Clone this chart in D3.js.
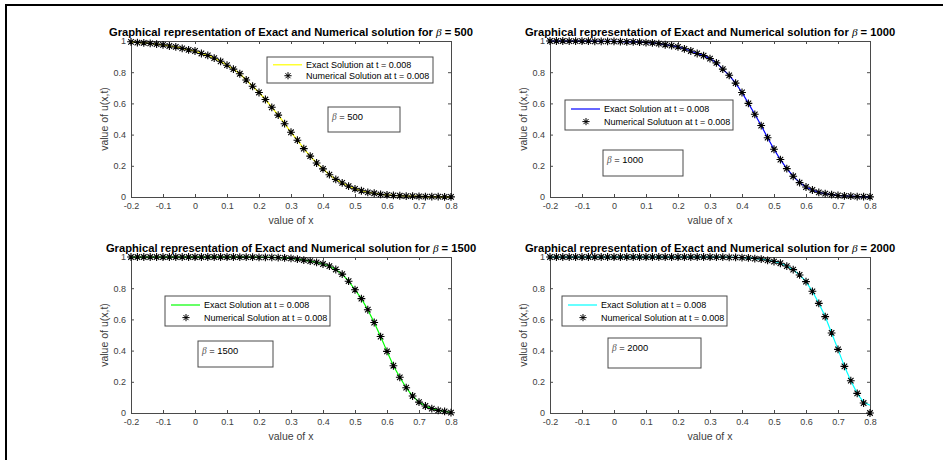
<!DOCTYPE html>
<html>
<head>
<meta charset="utf-8">
<script src="https://cdn.jsdelivr.net/npm/d3@7"></script>
<style>
  body { margin: 0; background: #fff; }
  svg { display: block; font-family: "Liberation Sans", Arial, sans-serif; }
  .tick text { fill: #404040; font-size: 9px; }
  .beta { font-family: "Liberation Serif", "Times New Roman", serif; font-style: italic; }
</style>
</head>
<body>
<svg id="chart" width="948" height="460"></svg>
<script>
// x positions of the grid points
const xValues = [-0.20, -0.18, -0.16, -0.14, -0.12, -0.10, -0.08, -0.06, -0.04, -0.02,
  0.00, 0.02, 0.04, 0.06, 0.08, 0.10, 0.12, 0.14, 0.16, 0.18,
  0.20, 0.22, 0.24, 0.26, 0.28, 0.30, 0.32, 0.34, 0.36, 0.38,
  0.40, 0.42, 0.44, 0.46, 0.48, 0.50, 0.52, 0.54, 0.56, 0.58,
  0.60, 0.62, 0.64, 0.66, 0.68, 0.70, 0.72, 0.74, 0.76, 0.78, 0.80];

const xTicks = [-0.2, -0.1, 0, 0.1, 0.2, 0.3, 0.4, 0.5, 0.6, 0.7, 0.8];
const yTicks = [0, 0.2, 0.4, 0.6, 0.8, 1];

// beta = 500
const exact500 = [0.995, 0.990, 0.988, 0.985, 0.980, 0.975, 0.968, 0.962, 0.953, 0.943,
  0.936, 0.920, 0.908, 0.890, 0.870, 0.845, 0.820, 0.790, 0.750, 0.710,
  0.670, 0.625, 0.575, 0.525, 0.470, 0.415, 0.364, 0.310, 0.262, 0.218,
  0.180, 0.143, 0.113, 0.090, 0.070, 0.052, 0.040, 0.030, 0.024, 0.017,
  0.013, 0.010, 0.008, 0.006, 0.005, 0.004, 0.003, 0.002, 0.002, 0.001, 0.001];
const numeric500 = [0.995, 0.990, 0.988, 0.985, 0.980, 0.975, 0.968, 0.962, 0.953, 0.943,
  0.936, 0.920, 0.908, 0.890, 0.870, 0.845, 0.820, 0.790, 0.750, 0.710,
  0.670, 0.625, 0.575, 0.525, 0.470, 0.415, 0.364, 0.310, 0.262, 0.218,
  0.180, 0.143, 0.113, 0.090, 0.070, 0.052, 0.040, 0.030, 0.024, 0.017,
  0.013, 0.010, 0.008, 0.006, 0.005, 0.004, 0.003, 0.002, 0.002, 0.001, 0.001];

// beta = 1000
const exact1000 = [1.000, 1.000, 1.000, 0.999, 0.999, 0.999, 0.999, 0.998, 0.998, 0.997,
  0.997, 0.996, 0.995, 0.994, 0.993, 0.990, 0.988, 0.983, 0.976, 0.970,
  0.962, 0.950, 0.936, 0.920, 0.906, 0.887, 0.860, 0.820, 0.780, 0.730,
  0.670, 0.600, 0.530, 0.458, 0.380, 0.306, 0.240, 0.182, 0.133, 0.092,
  0.064, 0.045, 0.030, 0.021, 0.015, 0.010, 0.007, 0.005, 0.003, 0.002, 0.001];
const numeric1000 = [1.000, 1.000, 1.000, 0.999, 0.999, 0.999, 0.999, 0.998, 0.998, 0.997,
  0.997, 0.996, 0.995, 0.994, 0.993, 0.990, 0.988, 0.983, 0.976, 0.970,
  0.962, 0.950, 0.936, 0.920, 0.906, 0.887, 0.860, 0.820, 0.780, 0.730,
  0.670, 0.600, 0.530, 0.458, 0.380, 0.306, 0.240, 0.182, 0.133, 0.092,
  0.064, 0.045, 0.030, 0.021, 0.015, 0.010, 0.007, 0.005, 0.003, 0.002, 0.001];

// beta = 1500
const exact1500 = [1.000, 1.000, 1.000, 1.000, 1.000, 1.000, 1.000, 1.000, 1.000, 1.000,
  1.000, 1.000, 1.000, 1.000, 1.000, 1.000, 1.000, 0.999, 0.999, 0.999,
  0.998, 0.998, 0.997, 0.996, 0.994, 0.991, 0.987, 0.980, 0.974, 0.966,
  0.955, 0.942, 0.920, 0.890, 0.845, 0.790, 0.733, 0.662, 0.580, 0.490,
  0.395, 0.303, 0.229, 0.162, 0.109, 0.070, 0.045, 0.028, 0.017, 0.011, 0.002];
const numeric1500 = [1.000, 1.000, 1.000, 1.000, 1.000, 1.000, 1.000, 1.000, 1.000, 1.000,
  1.000, 1.000, 1.000, 1.000, 1.000, 1.000, 1.000, 0.999, 0.999, 0.999,
  0.998, 0.998, 0.997, 0.996, 0.994, 0.991, 0.987, 0.980, 0.974, 0.966,
  0.955, 0.942, 0.920, 0.890, 0.845, 0.790, 0.733, 0.662, 0.580, 0.490,
  0.395, 0.303, 0.229, 0.162, 0.109, 0.070, 0.045, 0.028, 0.017, 0.011, 0.002];

// beta = 2000
const exact2000 = [1.000, 1.000, 1.000, 1.000, 1.000, 1.000, 1.000, 1.000, 1.000, 1.000,
  1.000, 1.000, 1.000, 1.000, 1.000, 1.000, 1.000, 1.000, 1.000, 1.000,
  1.000, 1.000, 1.000, 1.000, 1.000, 1.000, 0.999, 0.999, 0.998, 0.997,
  0.996, 0.994, 0.990, 0.987, 0.979, 0.971, 0.960, 0.942, 0.919, 0.885,
  0.842, 0.780, 0.703, 0.618, 0.513, 0.408, 0.299, 0.207, 0.126, 0.068, 0.050];
const numeric2000 = [1.000, 1.000, 1.000, 1.000, 1.000, 1.000, 1.000, 1.000, 1.000, 1.000,
  1.000, 1.000, 1.000, 1.000, 1.000, 1.000, 1.000, 1.000, 1.000, 1.000,
  1.000, 1.000, 1.000, 1.000, 1.000, 1.000, 0.999, 0.999, 0.998, 0.997,
  0.996, 0.994, 0.990, 0.987, 0.979, 0.971, 0.960, 0.942, 0.919, 0.885,
  0.842, 0.780, 0.703, 0.618, 0.513, 0.408, 0.299, 0.207, 0.126, 0.064, 0.000];

const betas = ["500", "1000", "1500", "2000"];
const exactLabels = ["Exact Solution at t = 0.008", "Exact Solution at t = 0.008",
  "Exact Solution at t = 0.008", "Exact Solution at t = 0.008"];
const numericLabels = ["Numerical Solution at t = 0.008", "Numerical Solutuon at t = 0.008",
  "Numerical Solution at t = 0.008", "Numerical Solution at t = 0.008"];
const exactSeries = [exact500, exact1000, exact1500, exact2000];
const numericSeries = [numeric500, numeric1000, numeric1500, numeric2000];

// layout of each panel (page pixels)
const panels = [
  { left: 131, top: 41, color: "#ffff00", legend: [267, 57, 166, 26], note: [328, 107, 72, 25] },
  { left: 550, top: 41, color: "#0000ff", legend: [565, 100, 168, 30], note: [603, 150, 80, 26] },
  { left: 131, top: 257, color: "#00ff00", legend: [165, 296, 165, 30], note: [198, 341, 75, 26] },
  { left: 550, top: 257, color: "#00ffff", legend: [562, 296, 165, 30], note: [608, 338, 93, 30] }
];
const width = 320, height = 156;
const axisColor = "#4a4a4a";

const svg = d3.select("#chart");

// outer frame (top and left edges)
svg.append("path")
  .attr("d", "M6,460V5H943")
  .attr("fill", "none")
  .attr("stroke", "#000")
  .attr("stroke-width", 2);

const fmt = d => d === 0 ? "0" : String(+d.toFixed(1));

function star(r) {
  const a = r * 0.7071;
  return `M${-r},0H${r}M0,${-r}V${r}M${-a},${-a}L${a},${a}M${-a},${a}L${a},${-a}`;
}

panels.forEach((p, i) => {
  const x = d3.scaleLinear().domain([-0.2, 0.8]).range([0, width]);
  const y = d3.scaleLinear().domain([0, 1]).range([height, 0]);

  const g = svg.append("g").attr("transform", `translate(${p.left},${p.top})`);

  // axes (ticks pointing inward, on all four sides)
  g.append("g")
    .attr("transform", `translate(0,${height})`)
    .call(d3.axisBottom(x).tickValues(xTicks).tickFormat(fmt).tickSizeInner(-3).tickSizeOuter(0).tickPadding(6));
  g.append("g")
    .call(d3.axisTop(x).tickValues(xTicks).tickFormat("").tickSizeInner(-3).tickSizeOuter(0));
  g.append("g")
    .call(d3.axisLeft(y).tickValues(yTicks).tickFormat(fmt).tickSizeInner(-3).tickSizeOuter(0).tickPadding(5));
  g.append("g")
    .attr("transform", `translate(${width},0)`)
    .call(d3.axisRight(y).tickValues(yTicks).tickFormat("").tickSizeInner(-3).tickSizeOuter(0));
  g.selectAll(".domain").attr("stroke", axisColor);
  g.selectAll(".tick line").attr("stroke", axisColor);
  g.selectAll(".tick text").attr("font-family", null);

  // exact solution
  const points = xValues.map((xv, k) => ({ x: xv, exact: exactSeries[i][k], num: numericSeries[i][k] }));
  g.append("path")
    .datum(points)
    .attr("fill", "none")
    .attr("stroke", p.color)
    .attr("stroke-width", 1.2)
    .attr("d", d3.line().x(d => x(d.x)).y(d => y(d.exact)));

  // numerical solution
  g.selectAll(".mark")
    .data(points)
    .enter()
    .append("path")
    .attr("class", "mark")
    .attr("transform", d => `translate(${x(d.x)},${y(d.num)})`)
    .attr("d", star(3.9))
    .attr("fill", "none")
    .attr("stroke", "#000")
    .attr("stroke-width", 1.1);

  // title
  const title = g.append("text")
    .attr("x", width / 2)
    .attr("y", -5)
    .attr("text-anchor", "middle")
    .attr("font-size", "11.2px")
    .attr("font-weight", "bold")
    .attr("fill", "#000");
  title.append("tspan").text("Graphical representation of Exact and Numerical solution for ");
  title.append("tspan").attr("class", "beta").attr("font-weight", "normal").text("β");
  title.append("tspan").text(" = " + betas[i]);

  // axis labels
  g.append("text")
    .attr("x", width / 2)
    .attr("y", height + 27)
    .attr("text-anchor", "middle")
    .attr("font-size", "10.5px")
    .attr("fill", "#404040")
    .text("value of x");
  g.append("text")
    .attr("transform", `translate(-23,${height / 2}) rotate(-90)`)
    .attr("text-anchor", "middle")
    .attr("font-size", "10.5px")
    .attr("fill", "#404040")
    .text("value of u(x,t)");

  // legend
  const [lx, ly, lw, lh] = p.legend;
  const lg = svg.append("g").attr("transform", `translate(${lx},${ly})`);
  lg.append("rect").attr("width", lw).attr("height", lh)
    .attr("fill", "#fff").attr("stroke", axisColor).attr("stroke-width", 1);
  const r1 = lh * 0.3, r2 = lh * 0.72;
  lg.append("line").attr("x1", 6).attr("x2", 35).attr("y1", r1).attr("y2", r1)
    .attr("stroke", p.color).attr("stroke-width", 1.2);
  lg.append("path").attr("transform", `translate(21,${r2})`).attr("d", star(3.6))
    .attr("fill", "none").attr("stroke", "#000");
  lg.append("text").attr("x", 39).attr("y", r1 + 3.2).attr("font-size", "9px").attr("fill", "#000")
    .text(exactLabels[i]);
  lg.append("text").attr("x", 39).attr("y", r2 + 3.2).attr("font-size", "9px").attr("fill", "#000")
    .text(numericLabels[i]);

  // beta annotation box
  const [nx, ny, nw, nh] = p.note;
  const ng = svg.append("g").attr("transform", `translate(${nx},${ny})`);
  ng.append("rect").attr("width", nw).attr("height", nh)
    .attr("fill", "#fff").attr("stroke", axisColor).attr("stroke-width", 1);
  const nt = ng.append("text").attr("x", 4).attr("y", 13).attr("font-size", "9.4px").attr("fill", "#000");
  nt.append("tspan").attr("class", "beta").attr("fill", "#555").text("β");
  nt.append("tspan").text(" = " + betas[i]);
});
</script>
</body>
</html>
